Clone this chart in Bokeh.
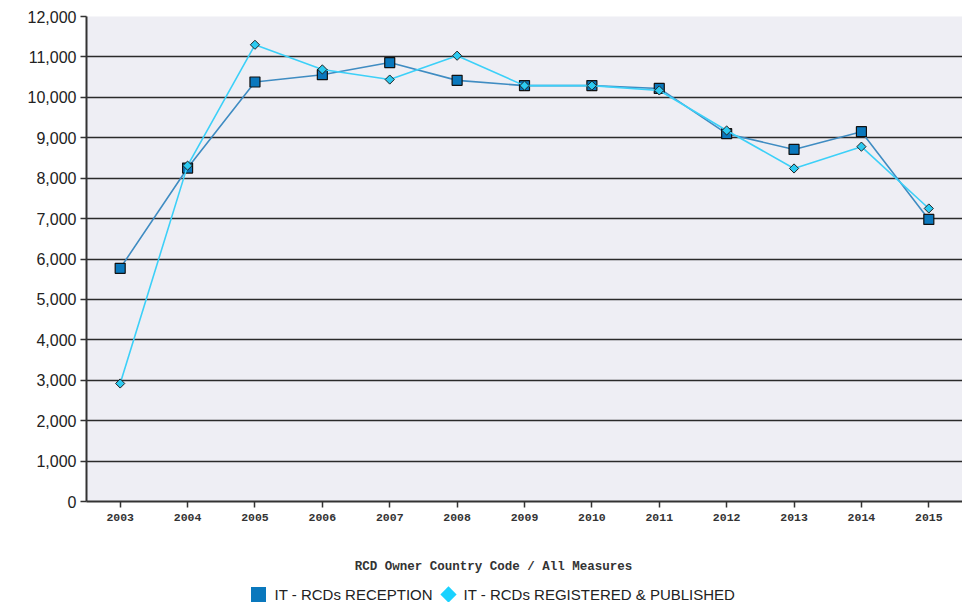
import math
from bokeh.plotting import figure
from bokeh.layouts import column
from bokeh.models import NumeralTickFormatter, FixedTicker, Range1d
from bokeh.core.properties import value
from bokeh.embed import file_html
from bokeh.resources import INLINE

years = ["2003", "2004", "2005", "2006", "2007", "2008", "2009", "2010", "2011", "2012", "2013", "2014", "2015"]
reception = [5770, 8250, 10380, 10560, 10860, 10420, 10290, 10290, 10220, 9100, 8710, 9150, 6980]
registered = [2920, 8310, 11300, 10690, 10440, 11030, 10290, 10290, 10170, 9180, 8240, 8780, 7250]
y_ticks = list(range(0, 12001, 1000))
series_names = ["IT - RCDs RECEPTION", "IT - RCDs REGISTERED & PUBLISHED"]
x_title = "RCD Owner Country Code / All Measures"

p = figure(x_range=years, y_range=Range1d(0, 12000), width=962, height=558,
           output_backend="svg", toolbar_location=None,
           min_border_top=16, min_border_right=0, min_border_left=86, min_border_bottom=57)
p.border_fill_color = "white"
p.background_fill_color = "#eeeef4"
p.outline_line_color = None

p.xgrid.grid_line_color = None
p.ygrid.grid_line_color = "#2a2a2a"
p.ygrid.grid_line_width = 1.6
p.yaxis.ticker = FixedTicker(ticks=y_ticks)
p.yaxis.formatter = NumeralTickFormatter(format="0,0")

for ax in (p.xaxis[0], p.yaxis[0]):
    ax.axis_line_color = "#333333"
    ax.axis_line_width = 2
    ax.major_tick_line_color = "#333333"
    ax.major_tick_line_width = 1.5
    ax.major_tick_out = 6
    ax.major_tick_in = 0
    ax.minor_tick_line_color = None

p.yaxis.major_label_text_font = "Liberation Sans"
p.yaxis.major_label_text_font_size = "16px"
p.yaxis.major_label_text_color = "#222222"
p.yaxis.major_label_standoff = 4

p.xaxis.major_label_text_font = "Liberation Mono"
p.xaxis.major_label_text_font_style = "bold"
p.xaxis.major_label_text_font_size = "11.5px"
p.xaxis.major_label_text_color = "#333333"
p.xaxis.major_label_standoff = 6

p.line(years, reception, line_color="#3f8cc2", line_width=1.6)
p.scatter(years, reception, marker="square", size=10, fill_color="#0a78bd",
          line_color="#111111", line_width=1.2)
p.line(years, registered, line_color="#3cd0f8", line_width=1.6)
p.scatter(years, registered, marker="square", angle=math.pi / 4, size=6.5, fill_color="#2ccaf0",
          line_color="#222222", line_width=1)

# strip below the chart with the axis title and legend
# (ranges in page pixels; its frame is aligned with the chart frame)
lf = figure(width=962, height=44, output_backend="svg", toolbar_location=None,
            x_range=Range1d(86, 962), y_range=Range1d(0, 44),
            min_border=0, min_border_left=86, min_border_right=0, min_border_top=0, min_border_bottom=0)
lf.axis.visible = False
lf.grid.visible = False
lf.outline_line_color = None
lf.background_fill_color = "white"
lf.border_fill_color = "white"
lf.text([493], [36], text=[x_title], text_font=value("Liberation Mono"), text_font_style="bold",
        text_font_size="12.5px", text_color="#333333", text_baseline="middle", text_align="center")
lf.scatter([258], [8], marker="square", size=15, fill_color="#0a78bd", line_color=None)
lf.scatter([448], [8], marker="square", angle=math.pi / 4, size=11.5, fill_color="#1ad2ff", line_color=None)
lf.text([274, 463], [8, 8], text=series_names, text_font=value("Liberation Sans"),
        text_font_size="15px", text_color="#222222", text_baseline="middle", text_align="left")

layout = column(p, lf, spacing=0)
open("out.html", "w").write(file_html(layout, INLINE))
